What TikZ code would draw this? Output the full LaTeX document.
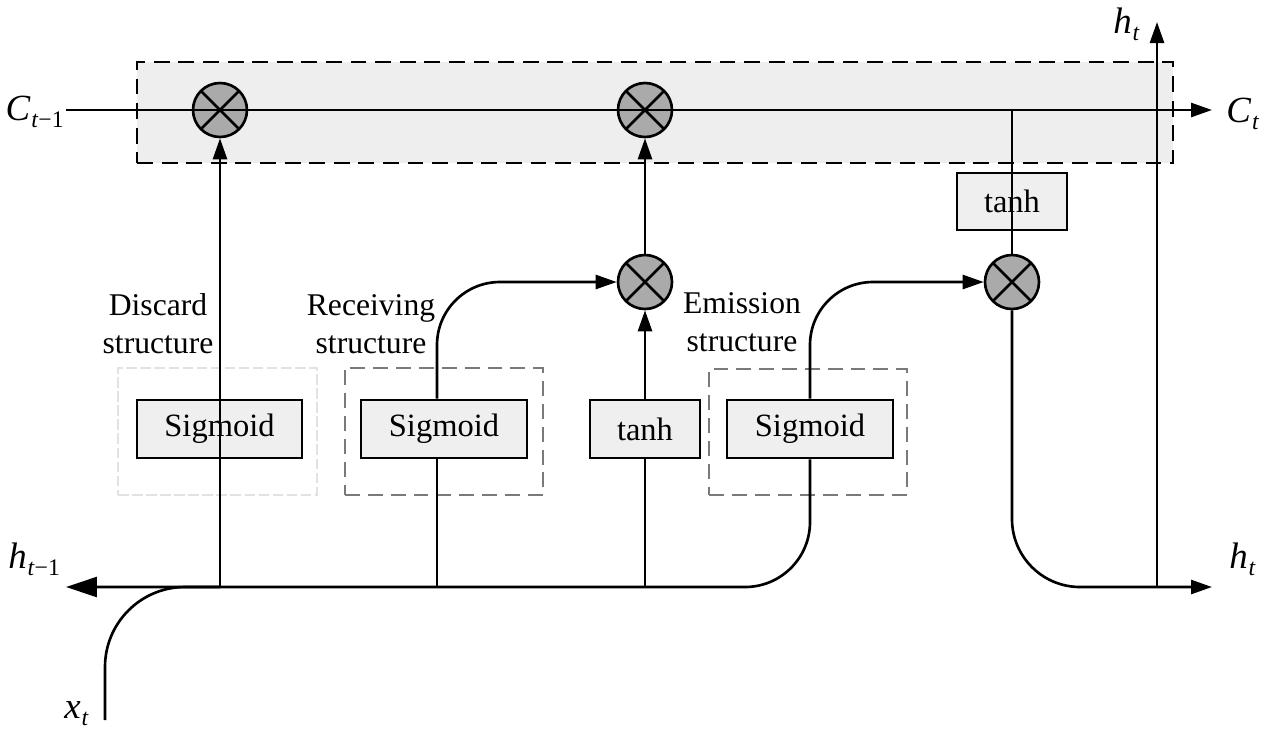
\documentclass[tikz,border=0pt]{standalone}
\usepackage{fontspec}
\setmainfont{Liberation Serif}
\usetikzlibrary{arrows.meta}
\definecolor{boxgray}{HTML}{EFEFEF}
\definecolor{cellgray}{HTML}{EEEEEE}
\definecolor{circgray}{HTML}{AAAAAA}
\definecolor{grpgray}{HTML}{7A7A7A}
\definecolor{grpfaint}{HTML}{E2E2E2}
\newcommand\lsub[2]{\textit{#1}\kern0.5pt\raisebox{-0.45ex}{\fontsize{13.5}{13.5}\selectfont #2}}
\begin{document}
\begin{tikzpicture}[x=0.02cm,y=-0.02cm,
  line/.style={line width=1.5pt},
  arr/.style={line, -{Triangle[length=0.42cm,width=0.28cm]}},
  arrbig/.style={line, -{Triangle[length=0.62cm,width=0.4cm]}},
  fn/.style={draw, line width=1.5pt, fill=boxgray, minimum height=1.16cm, inner sep=0pt, font=\fontsize{18.5}{18.5}\selectfont},
  grp/.style={draw=grpgray, line width=1.2pt, dash pattern=on 8.5pt off 4.5pt, inner sep=0pt},
  grpf/.style={draw=grpfaint, line width=1pt, dash pattern=on 6pt off 2pt, inner sep=0pt},
  cellbox/.style={draw, fill=cellgray, line width=1.5pt, dash pattern=on 9pt off 5pt, inner sep=0pt},
  mult/.style={circle, draw, line width=1.5pt, fill=circgray, minimum size=1.08cm, inner sep=0pt,
    path picture={\draw[line width=1.5pt] (path picture bounding box.north west) -- (path picture bounding box.south east)
      (path picture bounding box.north east) -- (path picture bounding box.south west);}},
  lab/.style={inner sep=0pt, font=\fontsize{21}{21}\selectfont},
  txt/.style={inner sep=0pt, align=center, font=\fontsize{18}{21.5}\selectfont}
]
\useasboundingbox (0,0) rectangle (1268,735);
% cell-state region
\node[cellbox, minimum width=20.72cm, minimum height=2.02cm] (cell) at (655,112.5) {};
% groups
\node[grpf, minimum width=3.98cm, minimum height=2.54cm] (g1) at (217.5,431.5) {};
\node[grp, minimum width=3.96cm, minimum height=2.54cm] (g2) at (444,431.5) {};
\node[grp, minimum width=3.96cm, minimum height=2.52cm] (g3) at (808,432) {};
% function boxes
\node[fn, minimum width=3.3cm] (sig1) at (219.5,429) {Sigmoid};
\node[fn, minimum width=3.32cm] (sig2) at (444,429) {Sigmoid};
\node[fn, minimum width=2.2cm] (tanhmid) at (645,429) {tanh};
\node[fn, minimum width=3.32cm] (sig3) at (810,429) {Sigmoid};
\node[fn, minimum width=2.2cm, minimum height=1.14cm] (tanhtop) at (1012,201.5) {tanh};
% multipliers
\node[mult] (m1) at (220,110) {};
\node[mult] (m2) at (645,110) {};
\node[mult] (m3) at (645,282) {};
\node[mult] (m4) at (1012,282) {};
% coordinates
\coordinate (cin) at (66,110);
\coordinate (cout) at (1212,110);
\coordinate (b1) at (220,587);
\coordinate (b2) at (437,587);
\coordinate (b3) at (645,587);
\coordinate (hprev) at (66,587);
\coordinate (cj) at (1012,110);
\coordinate (hout) at (1212,587);
\coordinate (hj) at (1157,587);
\coordinate (htop) at (1157,22);
\coordinate (xin) at (105,720);
% connectors
\draw[arr] (cin) -- (cout);
\draw[arr] (b1) -- (m1);
\draw[line] (b2) -- (b2 |- sig2.south);
\draw[arr, rounded corners=1.26cm] (b2 |- sig2.north) -- (b2 |- m3) -- (m3);
\draw[line] (b3) -- (tanhmid);
\draw[arr] (tanhmid) -- (m3);
\draw[arr] (m3) -- (m2);
\draw[arrbig, rounded corners=1.3cm] (sig3.south) -- (sig3.south |- b1) -- (hprev);
\draw[arr, rounded corners=1.26cm] (sig3.north) -- (sig3.north |- m4) -- (m4);
\draw[line] (m4) -- (cj);
\draw[arr, rounded corners=1.36cm] (m4) -- (m4 |- hout) -- (hout);
\draw[arr] (hj) -- (htop);
\draw[line, rounded corners=1.6cm] (xin) -- (xin |- b1) -- (b1);
% labels
\node[lab, anchor=base east] (lc0) at (64,120) {\lsub{C}{\textit{t}−1}};
\node[lab, anchor=base west] (lc1) at (1226,122) {\lsub{C}{\textit{t}}};
\node[lab, anchor=base west] (lh1) at (1113,33) {\lsub{h}{\textit{t}}};
\node[lab, anchor=base west] (lh2) at (1229,568) {\lsub{h}{\textit{t}}};
\node[lab, anchor=base west] (lh0) at (8,568) {\lsub{h}{\textit{t}−1}};
\node[lab, anchor=base west] (lx) at (64,718) {\lsub{x}{\textit{t}}};
\node[txt, anchor=south] (t1) at (158,354) {Discard\\structure};
\node[txt, anchor=south] (t2) at (371,354) {Receiving\\structure};
\node[txt, anchor=south] (t3) at (742,352) {Emission\\structure};
\end{tikzpicture}
\end{document}
